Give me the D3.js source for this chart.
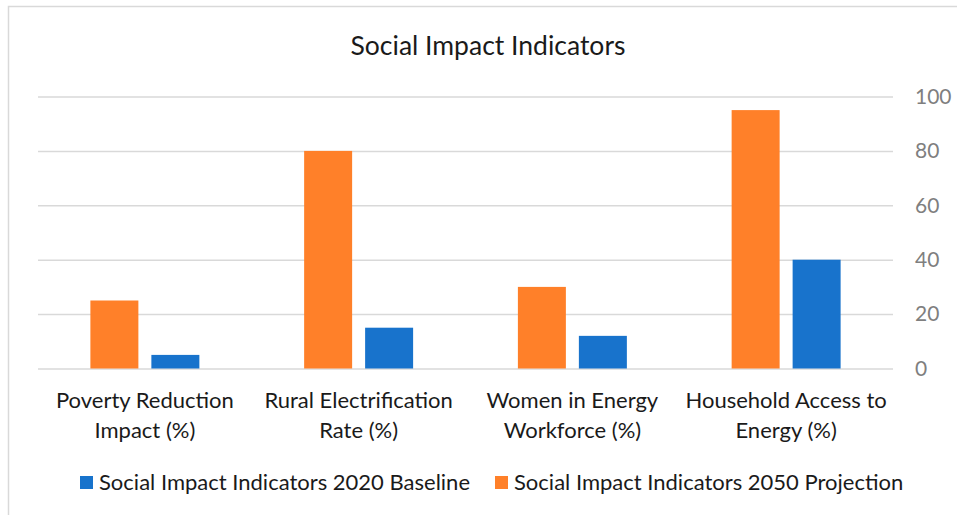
<!DOCTYPE html>
<html><head><meta charset="utf-8">
<script src="https://cdn.jsdelivr.net/npm/d3@7"></script>
<style>body{margin:0;background:#fff}svg{display:block}</style>
</head><body>
<script>
const categories = [["Poverty Reduction","Impact (%)"],["Rural Electrification","Rate (%)"],["Women in Energy","Workforce (%)"],["Household Access to","Energy (%)"]];
const seriesNames = ["Social Impact Indicators 2050 Projection","Social Impact Indicators 2020 Baseline"];
const projection2050 = [25, 80, 30, 95];
const baseline2020 = [5, 15, 12, 40];
const yTicks = [0, 20, 40, 60, 80, 100];
const colors = {"Social Impact Indicators 2050 Projection":"#FF8029","Social Impact Indicators 2020 Baseline":"#1873CC"};
const title = "Social Impact Indicators";

const W = 957, H = 515;
const font = "Lato, 'Open Sans', sans-serif";
const svg = d3.select("body").append("svg").attr("width", W).attr("height", H);
svg.append("rect").attr("x", 8.5).attr("y", 6.5).attr("width", W + 20).attr("height", H + 20)
  .attr("fill", "#fff").attr("stroke", "#d9d9d9").attr("stroke-width", 1.5);

const pLeft = 38, pRight = 893, pTop = 96.5, pBottom = 368.5;
const x0 = d3.scaleBand().domain(d3.range(categories.length)).range([pLeft, pRight]).padding(0);
const x1 = d3.scaleBand().domain(seriesNames).range([0, x0.bandwidth()]).paddingInner(0.213).paddingOuter(0.859);
const y = d3.scaleLinear().domain([0, 100]).range([pBottom, pTop]);

const yAxis = d3.axisRight(y).tickValues(yTicks).tickSize(-(pRight - pLeft)).tickPadding(22);
const gy = svg.append("g").attr("transform", `translate(${pRight},0)`).call(yAxis);
gy.select(".domain").remove();
gy.selectAll(".tick line").attr("stroke", "#d9d9d9").attr("stroke-width", 1.5);
gy.selectAll(".tick text").attr("fill", "#7f7f7f").style("font-family", font).style("font-size", "21px");

const data = [projection2050, baseline2020];
const g = svg.append("g");
seriesNames.forEach((s, si) => {
  g.selectAll(null).data(data[si]).enter().append("rect")
    .attr("x", (d, i) => x0(i) + x1(s))
    .attr("width", x1.bandwidth())
    .attr("y", d => y(d))
    .attr("height", d => y(0) - y(d))
    .attr("fill", colors[s]);
});

const xAxis = d3.axisBottom(x0).tickSize(0).tickFormat(() => "");
const gx = svg.append("g").attr("transform", `translate(0,${pBottom})`).call(xAxis);
gx.select(".domain").remove();
gx.selectAll(".tick").each(function(d) {
  const t = d3.select(this).append("text").attr("text-anchor", "middle").attr("fill", "#1a1a1a")
    .style("font-family", font).style("font-size", "22px");
  categories[d].forEach((line, k) => t.append("tspan").attr("x", 0).attr("y", 39 + k * 30).text(line));
});

svg.append("text").attr("x", 488).attr("y", 55).attr("text-anchor", "middle").attr("fill", "#1a1a1a")
  .style("font-family", font).style("font-size", "26.5px").text(title);

const legendItems = [{name: seriesNames[1], x: 80}, {name: seriesNames[0], x: 495}];
legendItems.forEach(it => {
  svg.append("rect").attr("x", it.x).attr("y", 476).attr("width", 13).attr("height", 13).attr("fill", colors[it.name]);
  svg.append("text").attr("x", it.x + 19).attr("y", 490).attr("fill", "#1a1a1a")
    .style("font-family", font).style("font-size", "22px").text(it.name);
});
</script>
</body></html>
